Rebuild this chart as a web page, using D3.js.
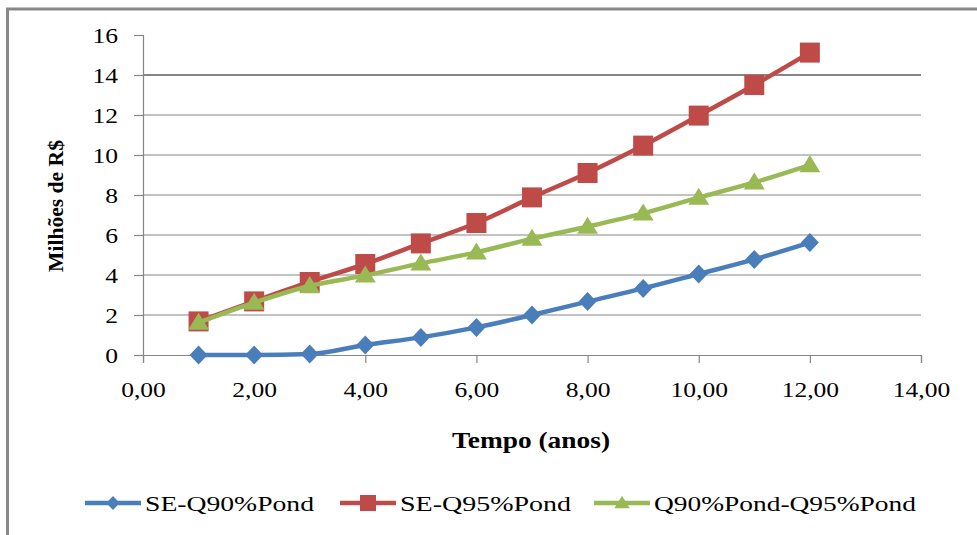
<!DOCTYPE html>
<html><head><meta charset="utf-8">
<script src="https://cdn.jsdelivr.net/npm/d3@7"></script>
<style>body{margin:0;background:#fff;} svg{display:block;}</style>
</head><body>
<svg id="c" width="977" height="535"></svg>
<script>
const years = [1,2,3,4,5,6,7,8,9,10,11,12];
const seQ90 = [0, 0, 0.05, 0.5, 0.88, 1.38, 2.0, 2.67, 3.33, 4.05, 4.78, 5.62];
const seQ95 = [1.68, 2.68, 3.65, 4.55, 5.58, 6.6, 7.88, 9.1, 10.47, 11.97, 13.5, 15.12];
const q90q95 = [1.62, 2.62, 3.45, 3.98, 4.58, 5.13, 5.82, 6.42, 7.08, 7.87, 8.63, 9.5];
const seriesNames = ["SE-Q90%Pond", "SE-Q95%Pond", "Q90%Pond-Q95%Pond"];
const seriesColors = ["#4A7EBB", "#BE4B48", "#98B954"];
const seriesMarkers = ["diamond", "square", "triangle"];
const xTicks = [0,2,4,6,8,10,12,14];
const yTicks = [0,2,4,6,8,10,12,14,16];
const xTitle = "Tempo (anos)";
const yTitle = "Milhões de R$";

const svg = d3.select("#c");
const font = "'Liberation Serif','Times New Roman',serif";
const stretch = 1.16;

// frame
svg.append("rect").attr("x",7.5).attr("y",9).attr("width",1000).attr("height",600)
  .attr("fill","none").attr("stroke","#888").attr("stroke-width",3);

const x = d3.scaleLinear().domain([0,14]).range([143,921]);
const y = d3.scaleLinear().domain([0,16]).range([355,35]);

// gridlines
svg.append("g").selectAll("line").data(yTicks.filter(v=>v>0 && v<16)).join("line")
  .attr("x1",x(0)).attr("x2",x(14)).attr("y1",d=>y(d)).attr("y2",d=>y(d))
  .attr("stroke","#868686").attr("stroke-width",d=>d===14?2:1.2);

// axes
const xAxis = svg.append("g").attr("transform",`translate(0,${y(0)})`)
  .call(d3.axisBottom(x).tickValues(xTicks).tickSize(8).tickPadding(18)
    .tickFormat(d=>d3.format(".2f")(d).replace(".",",")));
const yAxis = svg.append("g").attr("transform",`translate(${x(0)},0)`)
  .call(d3.axisLeft(y).tickValues(yTicks).tickSize(9).tickPadding(16).tickFormat(d3.format("d")));
[xAxis,yAxis].forEach(a=>{
  a.select(".domain").attr("stroke","#868686").attr("stroke-width",1.2);
  a.selectAll(".tick line").attr("stroke","#868686").attr("stroke-width",1.2);
  a.selectAll(".tick text").attr("font-family",font).attr("font-size",22).attr("fill","#000");
});
yAxis.selectAll(".tick text").attr("dy","0.34em");
[xAxis,yAxis].forEach(a=>a.selectAll(".tick text").each(function(){
  const w=this.getComputedTextLength(); d3.select(this).attr("textLength",w*stretch).attr("lengthAdjust","spacingAndGlyphs");
}));

// titles
svg.append("text").attr("x",531).attr("y",448).attr("text-anchor","middle")
  .attr("font-family",font).attr("font-weight","bold").attr("font-size",23)
  .attr("textLength",158).attr("lengthAdjust","spacingAndGlyphs").text(xTitle);
svg.append("text").attr("transform","translate(63,206) rotate(-90)").attr("text-anchor","middle")
  .attr("font-family",font).attr("font-weight","bold").attr("font-size",21)
  .attr("textLength",132).attr("lengthAdjust","spacingAndGlyphs").text(yTitle);

function markerPath(type,s){
  if(type==="diamond") return `M0,${-s}L${s*0.95},0L0,${s}L${-s*0.95},0Z`;
  if(type==="square") return `M${-s},${-s}H${s}V${s}H${-s}Z`;
  return `M0,${-s*1.05}L${s*1.1},${s*0.75}L${-s*1.1},${s*0.75}Z`;
}
const markerSize = {diamond:9.5, square:10, triangle:9.5};

const allSeries = [seQ90, seQ95, q90q95];
const line = d3.line().x((d,i)=>x(years[i])).y(d=>y(d)).curve(d3.curveMonotoneX);
allSeries.forEach((vals,k)=>{
  const g = svg.append("g");
  g.append("path").datum(vals).attr("d",line).attr("fill","none")
    .attr("stroke",seriesColors[k]).attr("stroke-width",4.5).attr("stroke-linejoin","round");
  g.selectAll("path.m").data(vals).join("path").attr("class","m")
    .attr("transform",(d,i)=>`translate(${x(years[i])},${y(d)})`)
    .attr("d",markerPath(seriesMarkers[k],markerSize[seriesMarkers[k]]))
    .attr("fill",seriesColors[k]);
});

// legend
const legX = [85, 340, 594];
const legW = [169, 171, 262];
const legY = 503;
seriesNames.forEach((n,k)=>{
  const g = svg.append("g");
  g.append("line").attr("x1",legX[k]).attr("x2",legX[k]+56).attr("y1",legY).attr("y2",legY)
    .attr("stroke",seriesColors[k]).attr("stroke-width",4.5);
  const ms = seriesMarkers[k]==="square"?8:7;
  g.append("path").attr("transform",`translate(${legX[k]+28},${legY})`)
    .attr("d",markerPath(seriesMarkers[k],ms)).attr("fill",seriesColors[k]);
  g.append("text").attr("x",legX[k]+60).attr("y",legY+8).attr("font-family",font).attr("font-size",22)
    .attr("textLength",legW[k]).attr("lengthAdjust","spacingAndGlyphs").text(n);
});
</script>
</body></html>
